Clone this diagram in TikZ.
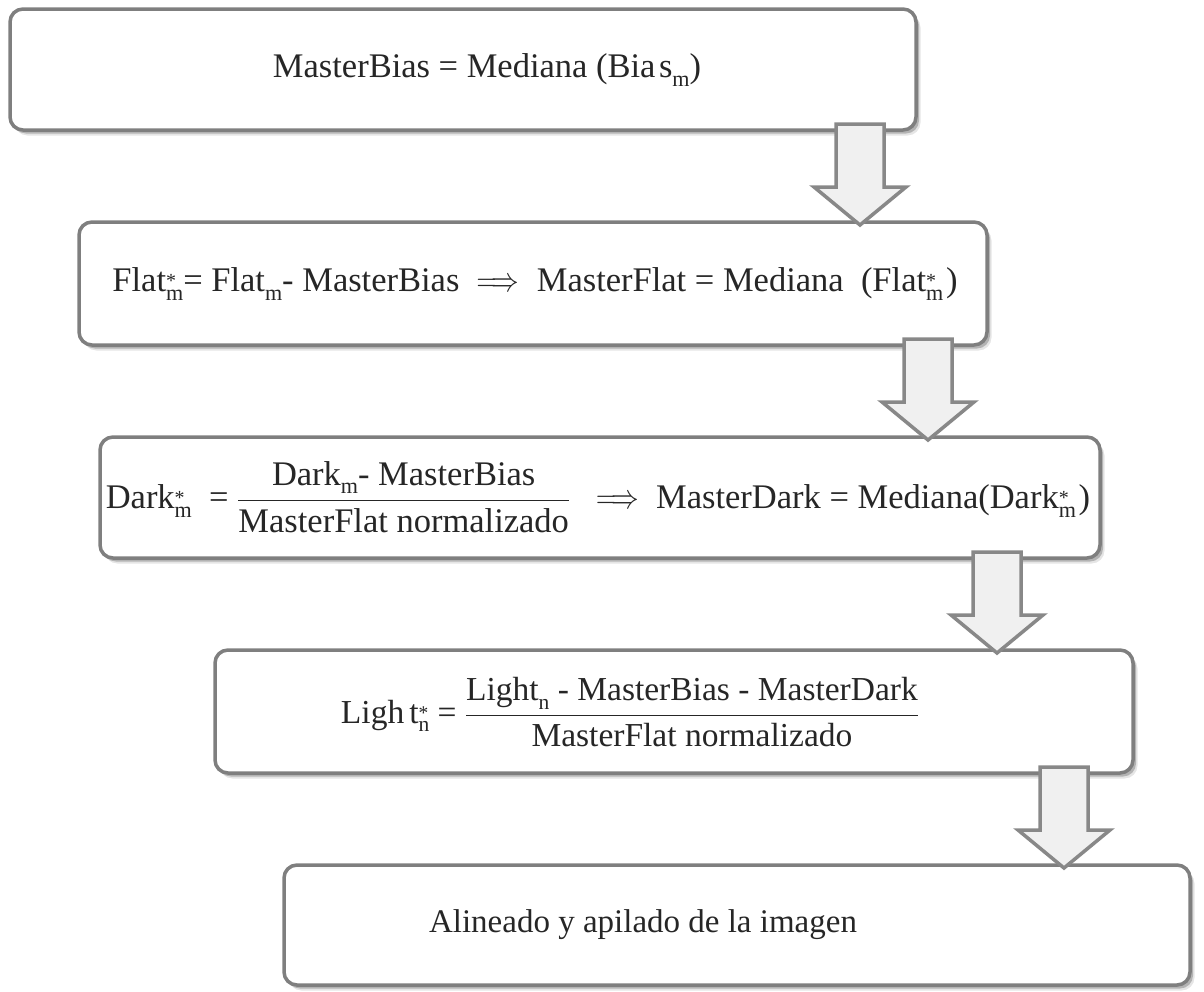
\documentclass[tikz,border=0pt]{standalone}
\usepackage{fix-cm}
\usepackage{graphicx}
\usepackage{fontspec}
\setmainfont{Liberation Serif}
\usetikzlibrary{calc,shadows}

\definecolor{boxline}{HTML}{7F7F7F}
\definecolor{arrowline}{HTML}{888888}
\definecolor{arrowfill}{HTML}{F0F0F0}
\definecolor{textcol}{HTML}{262626}

% small subscript, and a superscript stacked over a subscript
\newcommand{\sub}[1]{\raisebox{-0.25em}{\fontsize{0.64em}{1em}\selectfont #1}}
\newcommand{\supsub}[2]{\rlap{\raisebox{0.12em}{\fontsize{0.58em}{1em}\selectfont #1}}\raisebox{-0.25em}{\fontsize{0.64em}{1em}\selectfont #2}}
\newcommand{\implies}{\scalebox{0.8}[1]{$\Longrightarrow$}}

% hollow block arrow from the bottom of one box to the top of the next
\newcommand{\blockarr}[3]{%
  \draw[blockarrow] let \p1=(#1|-#2.south), \p2=(#1|-#3.north) in
    (\x1-24,\y1+6) -- (\x1+24,\y1+6) -- (\x1+24,\y2+35) -- (\x1+46,\y2+35)
    -- (\x1,\y2-3) -- (\x1-46,\y2+35) -- (\x1-24,\y2+35) -- cycle;}

\begin{document}
\begin{tikzpicture}[x=1pt,y=-1pt,
  stepbox/.style={draw=boxline, line width=3.5pt, rounded corners=13pt,
    fill=white, inner sep=0pt, outer sep=0pt,
    general shadow={shadow xshift=4.5pt, shadow yshift=-5.5pt, fill=black, opacity=0.10},
    general shadow={shadow xshift=3pt, shadow yshift=-3.5pt, fill=black, opacity=0.22}},
  txt/.style={text=textcol, inner sep=0pt, font=\fontsize{#1}{40}\selectfont},
  txt/.default=33,
  blockarrow/.style={draw=arrowline, fill=arrowfill, line width=3.5pt, line join=miter}]

\useasboundingbox (0,0) rectangle (1204,991);

% process boxes
\node[stepbox, minimum width=906pt, minimum height=121pt] (b1) at (463,69.5) {};
\node[stepbox, minimum width=908pt, minimum height=123pt] (b2) at (533,283.5) {};
\node[stepbox, minimum width=1000pt, minimum height=121pt] (b3) at (600,497.5) {};
\node[stepbox, minimum width=918pt, minimum height=123pt] (b4) at (674,711.5) {};
\node[stepbox, minimum width=906pt, minimum height=120pt] (b5) at (737,925) {};

% box contents
\node[txt=34.5] (t1) at (487,70) {MasterBias = Mediana (Bia\kern0.1em s\sub{m})};
\node[txt=34.5] (t2) at (535,284) {Flat\supsub{*}{m}= Flat\sub{m}- MasterBias \ \implies\ \ MasterFlat = Mediana \ (Flat\supsub{*}{m}\kern0.08em)};
\node[txt=34.5] (t3) at (598,497) {Dark\supsub{*}{m} \ = $\displaystyle\frac{\mbox{Dark\sub{m}- MasterBias}}{\mbox{MasterFlat normalizado}}$ \ \ \implies\ \ MasterDark = Mediana(Dark\supsub{*}{m}\kern0.08em)};
\node[txt=33.5] (t4) at (630,712) {Ligh\kern0.15em t\supsub{*}{n} = $\displaystyle\frac{\mbox{Light\sub{n} - MasterBias - MasterDark}}{\mbox{MasterFlat normalizado}}$};
\node[txt] (t5) at (643,925) {Alineado y apilado de la imagen};

% arrow positions
\coordinate (a1) at (860,0);
\coordinate (a2) at (928,0);
\coordinate (a3) at (997,0);
\coordinate (a4) at (1064,0);

\blockarr{a1}{b1}{b2}
\blockarr{a2}{b2}{b3}
\blockarr{a3}{b3}{b4}
\blockarr{a4}{b4}{b5}
\end{tikzpicture}
\end{document}
